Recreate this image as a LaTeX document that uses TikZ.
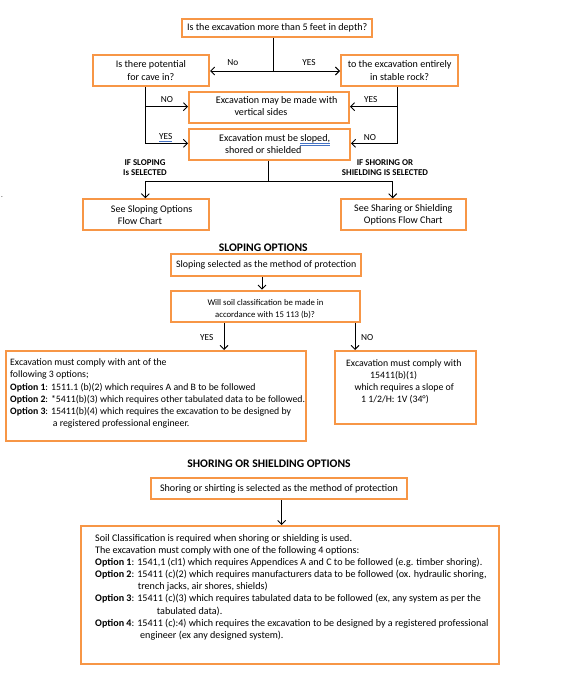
\documentclass[tikz,border=0pt]{standalone}
\usepackage{fontspec}
\setmainfont{Carlito}
\usetikzlibrary{arrows.meta,calc}
\definecolor{boxorange}{HTML}{F79646}
\definecolor{gramblue}{HTML}{4472C4}
\newcommand\dblu[1]{\setbox0\hbox{#1}\rlap{\color{gramblue}\rule[-2.2pt]{\wd0}{0.45pt}}\rlap{\color{gramblue}\rule[-3.8pt]{\wd0}{0.45pt}}\box0}
\newcommand\snglu[1]{\setbox0\hbox{#1}\rlap{\color{gramblue}\rule[-2.2pt]{\wd0}{0.5pt}}\box0}
\begin{document}
\begin{tikzpicture}[x=1pt,y=-1pt,
  box/.style={draw=boxorange, line width=2pt, inner sep=0pt, fill=white, align=center, font=\fontsize{10.1}{12.1}\selectfont},
  txt/.style={font=\fontsize{10.1}{12.1}\selectfont, align=left, inner sep=0pt, anchor=west},
  stxt/.style={txt, font=\fontsize{9.8}{12.1}\selectfont},
  lbl/.style={font=\fontsize{9.3}{10}\selectfont, inner sep=0pt},
  blbl/.style={font=\bfseries\fontsize{8.9}{10.4}\selectfont, inner sep=0pt, align=center},
  hd/.style={font=\bfseries\fontsize{11.6}{12}\selectfont, inner sep=0pt},
  conn/.style={line width=0.9pt, draw=black},
  arr/.style={conn, -{Straight Barb[length=4pt,width=8pt]}}
]
\useasboundingbox (0,0) rectangle (560,684);

% ---------- top flow ----------
\node[box, minimum width=190pt, minimum height=17.7pt] (q1) at (277.2,27.8) {Is the excavation more than 5 feet in depth?};
\node[box, minimum width=116.3pt, minimum height=31pt] (q2) at (150.85,70.5) {Is there potential\\for cave in?};
\node[box, minimum width=117.3pt, minimum height=31pt] (q3) at (399.65,70.5) {to the excavation entirely\\in stable rock?};
\node[box, minimum width=160pt, minimum height=31pt] (q4) at (269,107.2) {};
\node[txt] (q4t) at (215.7,106.3) {Excavation may be made with\\\hspace*{18.6pt}vertical sides};
\node[box, minimum width=161pt, minimum height=31pt] (q5) at (269.5,144.5) {};
\node[txt] (q5t) at (219,143.8) {Excavation must be \dblu{sloped,}\\\hspace*{6pt}shored or shielded};
\node[box, minimum width=125.7pt, minimum height=31pt] (s1) at (146.2,214.8) {};
\node[txt] (s1t) at (110.7,214.8) {See Sloping Options\\\hspace*{7pt}Flow Chart};
\node[box, minimum width=125.3pt, minimum height=31pt] (s2) at (403.3,214.8) {See Sharing or Shielding\\Options Flow Chart};

\coordinate (fork) at (273.3,71);
\draw[conn] (q1.south -| fork) -- (fork);
\draw[arr] (fork) -- (fork -| q2.east);
\draw[arr] (fork) -- (fork -| q3.west);
\node[lbl] (lno1) at (232.7,63) {No};
\node[lbl] (lyes1) at (309,63) {YES};

\coordinate (lx) at (145.7,106.7);
\coordinate (lx2) at (145.7,143.3);
\coordinate (rx) at (397.5,106.7);
\coordinate (rx2) at (397.5,143.3);
\draw[arr] (q2.south -| lx) -- (lx) -- (lx -| q4.west);
\draw[arr] (lx) -- (lx2) -- (lx2 -| q5.west);
\draw[arr] (q3.south -| rx) -- (rx) -- (rx -| q4.east);
\draw[arr] (rx) -- (rx2) -- (rx2 -| q5.east);
\node[lbl] (lno2) at (167,100) {NO};
\node[lbl] (lyes2) at (370.7,100) {YES};
\node[lbl] (lyes3) at (165.7,137.7) {\snglu{YES}};
\node[lbl] (lno3) at (370,137.7) {NO};

\coordinate (split) at (268.7,181.7);
\coordinate (sl) at (145.3,181.7);
\coordinate (sr) at (392.7,181.7);
\draw[conn] (q5.south -| split) -- (split);
\draw[arr] (split) -| (sl |- s1.north);
\draw[arr] (split) -| (sr |- s2.north);
\node[blbl] (ifslope) at (145,167.5) {IF SLOPING\\Is SELECTED};
\node[blbl] (ifshore) at (385,167.5) {IF SHORING OR\\SHIELDING IS SELECTED};
\node[inner sep=0pt, font=\fontsize{7}{8}\selectfont] (dot) at (2,197.5) {.};

% ---------- sloping options ----------
\node[hd] (hslope) at (263.3,247.7) {SLOPING OPTIONS};
\node[box, font=\fontsize{9.9}{12}\selectfont, minimum width=190.3pt, minimum height=21.7pt] (b1) at (266.2,265.2) {Sloping selected as the method of protection};
\node[box, minimum width=189pt, minimum height=31.6pt] (b2) at (265.5,306.5) {};
\node[txt, font=\fontsize{8.7}{11.7}\selectfont] (b2t) at (207.3,309.2) {Will soil classification be made in\\\hspace*{7.7pt}accordance with 15 113 (b)?};
\node[box, minimum width=300.3pt, minimum height=89.7pt] (b3) at (155.85,395.85) {};
\node[stxt] (b3t) at (10,393.5) {Excavation must comply with ant of the\\
following 3 options;\\
\textbf{Option 1}: 1511.1 (b)(2) which requires A and B to be followed\\
\textbf{Option 2}: *5411(b)(3) which requires other tabulated data to be followed.\\
\textbf{Option 3}: 15411(b)(4) which requires the excavation to be designed by\\
\hspace*{42.7pt}a registered professional engineer.};
\node[box, minimum width=141.6pt, minimum height=72.7pt] (b4) at (405.5,387.35) {};
\node[stxt] (b4t) at (346,381.6) {Excavation must comply with\\
\hspace*{24pt}15411(b)(1)\\
\hspace*{8.3pt}which requires a slope of\\
\hspace*{15pt}1 1/2/H: 1V (34°)};

\draw[arr] ([xshift=-4.2pt]b1.south) -- ([xshift=-4.2pt]b1.south |- b2.north);
\coordinate (ya) at (224,0);
\coordinate (na) at (355,0);
\draw[arr] (b2.south -| ya) -- (b3.north -| ya);
\draw[arr] (b2.south -| na) -- (b4.north -| na);
\node[lbl] (lyes4) at (206.7,337.7) {YES};
\node[lbl] (lno4) at (367.3,337.7) {NO};

% ---------- shoring options ----------
\node[hd] (hshore) at (269,463.3) {SHORING OR SHIELDING OPTIONS};
\node[box, minimum width=256.6pt, minimum height=21.6pt] (c1) at (279,488.5) {Shoring or shirting is selected as the method of protection};
\node[box, minimum width=418.3pt, minimum height=138.3pt] (c2) at (290.15,595.15) {};
\node[txt] (c2t) at (95,587.2) {Soil Classification is required when shoring or shielding is used.\\
The excavation must comply with one of the following 4 options:\\
\textbf{Option 1}: 1541,1 (cl1) which requires Appendices A and C to be followed (e.g. timber shoring).\\
\textbf{Option 2}: 15411 (c)(2) which requires manufacturers data to be followed (ox. hydraulic shoring,\\
\hspace*{42.7pt}trench jacks, air shores, shields)\\
\textbf{Option 3}: 15411 (c)(3) which requires tabulated data to be followed (ex, any system as per the\\
\hspace*{61.7pt}tabulated data).\\
\textbf{Option 4}: 15411 (c):4) which requires the excavation to be designed by a registered professional\\
\hspace*{45pt}engineer (ex any designed system).};
\draw[arr] ([xshift=2.7pt]c1.south) -- ([xshift=2.7pt]c1.south |- c2.north);
\end{tikzpicture}
\end{document}
